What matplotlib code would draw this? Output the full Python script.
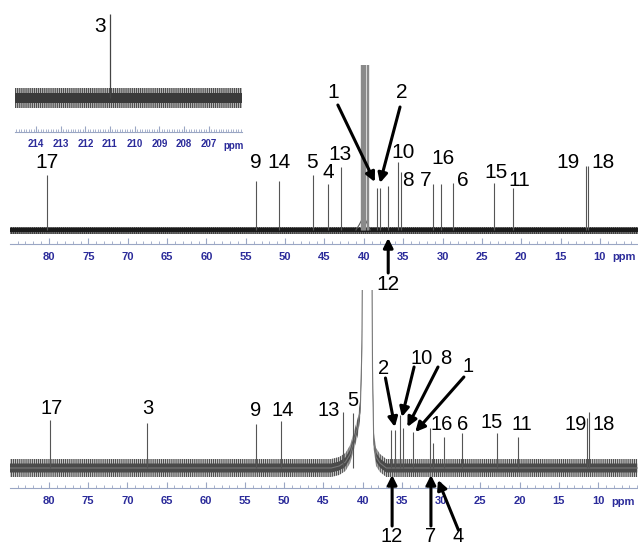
import numpy as np
import matplotlib
matplotlib.use("Agg")
import matplotlib.pyplot as plt
from matplotlib.ticker import MultipleLocator

plt.rcParams['font.family'] = ['Liberation Sans', 'DejaVu Sans']
plt.rcParams['hatch.linewidth'] = 0.5

# ---- top spectrum (peaks: ppm, height above baseline) ----
top_ppm = [80.3, 53.7, 50.8, 46.5, 44.6, 42.9, 38.3, 38.0, 36.9, 35.7, 35.3,
           31.25, 30.2, 28.7, 23.5, 21.0, 11.8, 11.5]
top_h = [55, 49, 49, 55, 46, 63, 42, 42, 44, 68, 58, 46, 46, 47, 47, 42, 64, 64]
top_solv_ppm = [40.4, 40.25, 40.1, 39.95, 39.8, 39.65, 39.5]
top_hump_ppm = [41.0, 40.6, 40.2, 39.9, 39.5, 39.2]
top_hump_h = [0, 5, 11, 12, 5, 0]

top_labels = ["17", "9", "14", "5", "4", "13", "1", "2", "10", "8", "7", "16",
              "6", "15", "11", "19", "18", "12"]
top_lab_x = [80.25, 53.7, 50.8, 46.6, 44.5, 43.0, 43.9, 35.15, 35.0, 34.4,
             32.1, 29.9, 27.4, 23.2, 20.2, 14.05, 9.6, 36.9]
top_lab_y = [67, 67, 67, 67, 57, 76, 137, 137, 77, 50, 50, 71, 49, 57, 50, 67, 67, -55]
# arrows: (tail ppm, tail y, head ppm, head y)
top_arrows = [(43.3, 125, 38.6, 48), (35.4, 123, 37.95, 47), (36.9, -43, 36.9, -8)]

# ---- bottom spectrum ----
bot_ppm = [79.9, 67.5, 53.6, 50.4, 42.5, 41.2, 36.4, 35.9, 35.2, 34.85, 33.6,
           31.4, 31.0, 29.6, 27.4, 22.9, 20.2, 11.4, 11.1]
bot_h = [48, 45, 44, 47, 56, 55, 38, 38, 53, 40, 36, 40, 25, 31, 35, 35, 31, 50, 56]
bot_solv_ppm = [85, 44.0, 43.0, 42.2, 41.6, 41.2, 40.6, 40.3, 40.1, 40.0,
                38.85, 38.75, 38.6, 38.3, 37.8, 37.0, 5]
bot_solv_h = [0, 0, 2, 6, 14, 25, 42, 60, 120, 250, 250, 100, 28, 11, 5, 0, 0]

bot_labels = ["17", "3", "9", "14", "13", "5", "2", "10", "8", "1", "16", "6",
              "15", "11", "19", "18", "12", "7", "4"]
bot_lab_x = [79.6, 67.4, 53.6, 50.2, 44.4, 41.2, 37.4, 32.55, 29.4, 26.55, 29.9,
             27.2, 23.6, 19.7, 12.9, 9.3, 36.25, 31.3, 27.8]
bot_lab_y = [60, 60, 58, 58, 58, 68, 100, 110, 110, 101, 44, 44, 45, 44, 44, 44,
             -68, -68, -68]
bot_arrows = [(37.1, 90, 35.9, 41), (33.45, 101, 35.0, 51), (30.4, 101, 34.3, 41),
              (27.1, 91, 33.3, 36), (36.25, -58, 36.25, -7), (31.3, -58, 31.3, -7),
              (27.8, -62, 30.4, -12)]

# ---- inset (carbonyl region) ----
ins_ppm = [211.0]
ins_h = [84]

TICK_COL = '#2b2b9a'
AX_COL = '#9aa6c4'


def style_axis(ax, major, minor, fs):
    for s in ['top', 'left', 'right']:
        ax.spines[s].set_visible(False)
    ax.spines['bottom'].set_color(AX_COL)
    ax.spines['bottom'].set_linewidth(0.8)
    ax.set_yticks([])
    ax.xaxis.set_major_locator(MultipleLocator(major))
    ax.xaxis.set_minor_locator(MultipleLocator(minor))
    ax.tick_params(axis='x', which='major', direction='in', length=4, width=0.8,
                   color=AX_COL, labelcolor=TICK_COL, labelsize=fs, pad=6)
    ax.tick_params(axis='x', which='minor', direction='in', length=2, width=0.6,
                   color=AX_COL)
    for lab in ax.get_xticklabels():
        lab.set_fontweight('bold')
    ax.patch.set_visible(False)


def noise_band(ax, x, base, outer, inner, c_out, c_in):
    # baseline noise drawn as an envelope: light outer spikes, dark core
    base = np.asarray(base, dtype=float)
    ax.fill_between(x, base - outer, base + outer, facecolor=c_out,
                    edgecolor='#222222', hatch='||||||||', linewidth=0)
    ax.fill_between(x, base - inner, base + inner, facecolor=c_in, linewidth=0)


fig = plt.figure(figsize=(6.38, 5.47), dpi=100)

# top spectrum
ax1 = fig.add_axes([10 / 638, 1 - 244 / 547, 628 / 638, 179 / 547])
ax1.set_xlim(84.96, 5.16)
ax1.set_ylim(-14, 165)
noise_band(ax1, [85, 5], [0, 0], 3.5, 2, '#777777', '#1a1a1a')
ax1.plot(top_hump_ppm, top_hump_h, color='#555555', lw=0.8)
ax1.vlines(top_solv_ppm, 0, 300, color='#8a8a8a', lw=1.0)
ax1.vlines(top_ppm, 0, top_h, color='#555555', lw=0.8)
style_axis(ax1, 5, 1, 8)
ax1.set_xticks(range(80, 9, -5))
ax1.text(8.4, -27, 'ppm', color=TICK_COL, fontsize=8, fontweight='bold',
         ha='left', va='center', clip_on=False)
for t, x, y in zip(top_labels, top_lab_x, top_lab_y):
    ax1.text(x, y, t, fontsize=15, ha='center', va='center', clip_on=False)
for x0, y0, x1, y1 in top_arrows:
    ax1.annotate('', xy=(x1, y1), xytext=(x0, y0), annotation_clip=False,
                 arrowprops=dict(arrowstyle='-|>', lw=2.2, color='black',
                                 mutation_scale=14, shrinkA=0, shrinkB=0))

# bottom spectrum
ax2 = fig.add_axes([10 / 638, 1 - 488 / 547, 628 / 638, 198 / 547])
ax2.set_xlim(84.97, 4.9)
ax2.set_ylim(-20, 178)
noise_band(ax2, bot_solv_ppm, bot_solv_h, 9, 4.5, '#c4c4c4', '#4a4a4a')
ax2.plot(bot_solv_ppm, bot_solv_h, color='#777777', lw=0.8)
ax2.vlines(bot_ppm, 0, bot_h, color='#555555', lw=0.8)
style_axis(ax2, 5, 1, 8)
ax2.set_xticks(range(80, 9, -5))
ax2.text(8.3, -34, 'ppm', color=TICK_COL, fontsize=8, fontweight='bold',
         ha='left', va='center', clip_on=False)
for t, x, y in zip(bot_labels, bot_lab_x, bot_lab_y):
    ax2.text(x, y, t, fontsize=14.5, ha='center', va='center', clip_on=False)
for x0, y0, x1, y1 in bot_arrows:
    ax2.annotate('', xy=(x1, y1), xytext=(x0, y0), annotation_clip=False,
                 arrowprops=dict(arrowstyle='-|>', lw=2.2, color='black',
                                 mutation_scale=14, shrinkA=0, shrinkB=0))

# inset
ax3 = fig.add_axes([15 / 638, 1 - 132 / 547, 227 / 638, 122 / 547])
ax3.set_xlim(214.85, 205.65)
ax3.set_ylim(-34, 88)
noise_band(ax3, [214.85, 205.65], [0, 0], 10, 5, '#b4b4b4', '#3a3a3a')
ax3.vlines(ins_ppm, 0, ins_h, color='#444444', lw=0.9)
style_axis(ax3, 1, 0.1, 7)
ax3.set_xticks(range(214, 206, -1))
ax3.tick_params(axis='x', which='major', pad=5)
ax3.text(206.4, -48, 'ppm', color=TICK_COL, fontsize=7, fontweight='bold',
         ha='left', va='center', clip_on=False)
ax3.text(211.4, 71, '3', fontsize=15, ha='center', va='center')

fig.savefig('out.png', dpi=100)
